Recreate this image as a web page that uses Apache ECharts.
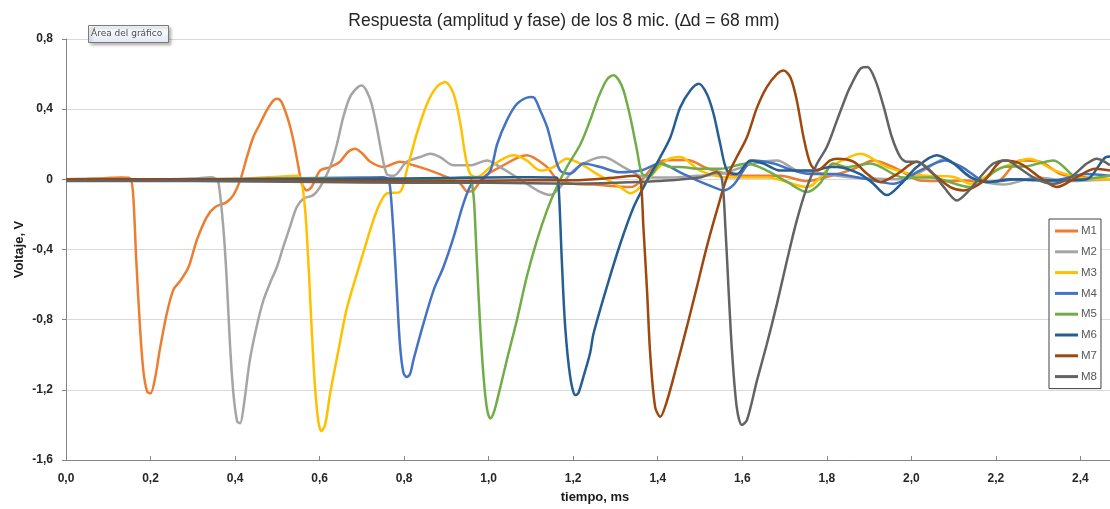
<!DOCTYPE html>
<html>
<head>
<meta charset="utf-8">
<script src="https://cdn.jsdelivr.net/npm/echarts@6/dist/echarts.min.js"></script>
<style>
html,body{margin:0;padding:0;background:#fff;}
#c{width:1110px;height:509px;}
</style>
</head>
<body>
<div id="c"></div>
<script>
const seriesNames = ['M1','M2','M3','M4','M5','M6','M7','M8'];
const seriesColors = ['#ED7D31','#A5A5A5','#FFC000','#4472C4','#70AD47','#255E91','#9E480E','#636363'];
const yTicks = [-1.6,-1.2,-0.8,-0.4,0,0.4,0.8];
const xTicks = [0,0.2,0.4,0.6,0.8,1.0,1.2,1.4,1.6,1.8,2.0,2.2,2.4];

const m1t = [0,0.05,0.10,0.13,0.150,0.158,0.166,0.175,0.183,0.192,0.200,0.211,0.222,0.238,0.254,0.270,0.290,0.309,0.333,0.353,0.380,0.396,0.412,0.428,0.443,0.459,0.475,0.491,0.500,0.510,0.526,0.538,0.550,0.558,0.570,0.581,0.601,0.625,0.648,0.667,0.684,0.700,0.720,0.751,0.790,0.822,0.862,0.901,0.933,0.950,0.964,0.988,1.027,1.090,1.138,1.161,1.200,1.250,1.335,1.413,1.470,1.520,1.595,1.690,1.753,1.810,1.864,1.910,1.966,2.020,2.080,2.124,2.200,2.258,2.305,2.353,2.415,2.470];
const m1v = [0,0.003,0.008,0.010,0.008,-0.06,-0.45,-0.84,-1.09,-1.21,-1.22,-1.13,-0.97,-0.77,-0.63,-0.58,-0.50,-0.35,-0.215,-0.158,-0.13,-0.09,-0.006,0.127,0.24,0.317,0.393,0.45,0.46,0.44,0.336,0.222,0.07,-0.025,-0.063,-0.044,0.05,0.07,0.10,0.156,0.175,0.15,0.10,0.07,0.10,0.08,0.05,0.013,-0.025,-0.07,-0.063,0.013,0.07,0.137,0.07,0.004,-0.025,-0.03,-0.044,0.108,0.11,0.06,0.02,0.02,-0.01,0.02,0.06,0.108,0.06,-0.006,-0.01,-0.006,-0.015,0.108,0.10,0.03,0.01,0.0];

const m2t = [0,0.1,0.2,0.3,0.345,0.355,0.361,0.372,0.380,0.388,0.396,0.405,0.412,0.420,0.435,0.451,0.467,0.483,0.499,0.514,0.530,0.546,0.562,0.585,0.601,0.625,0.641,0.656,0.672,0.690,0.700,0.712,0.723,0.735,0.747,0.759,0.775,0.806,0.838,0.862,0.885,0.917,0.956,0.996,1.027,1.059,1.090,1.122,1.146,1.169,1.200,1.240,1.272,1.319,1.375,1.420,1.493,1.548,1.627,1.682,1.729,1.765,1.864,1.982,2.035,2.080,2.140,2.218,2.297,2.376,2.470];
const m2v = [0,0.002,0,0.005,0.012,0,-0.02,-0.27,-0.56,-0.94,-1.22,-1.38,-1.39,-1.30,-1.03,-0.84,-0.69,-0.59,-0.50,-0.385,-0.27,-0.158,-0.11,-0.09,-0.044,0.07,0.20,0.355,0.47,0.525,0.535,0.50,0.43,0.30,0.146,0.03,0.02,0.10,0.127,0.146,0.127,0.08,0.08,0.108,0.07,0.023,-0.025,-0.072,-0.09,-0.044,0.05,0.108,0.127,0.07,0.01,0.01,0.02,0.03,0.09,0.108,0.05,0.04,0.01,0,0.06,0.118,0.01,-0.03,0.01,-0.01,0];

const m3t = [0,0.2,0.4,0.5,0.545,0.556,0.566,0.574,0.581,0.589,0.597,0.604,0.613,0.625,0.645,0.664,0.688,0.712,0.735,0.759,0.790,0.806,0.830,0.854,0.877,0.897,0.917,0.933,0.944,0.956,0.972,1.004,1.035,1.059,1.090,1.122,1.153,1.185,1.217,1.250,1.311,1.335,1.359,1.420,1.453,1.500,1.570,1.660,1.753,1.808,1.856,1.880,1.942,2.020,2.100,2.140,2.200,2.280,2.340,2.415,2.470];
const m3v = [0,0,0.003,0.015,0.02,0.005,-0.18,-0.50,-0.84,-1.18,-1.38,-1.435,-1.40,-1.22,-0.97,-0.74,-0.54,-0.35,-0.18,-0.08,-0.072,0.05,0.26,0.43,0.526,0.555,0.488,0.317,0.146,0.032,0.013,0.07,0.118,0.137,0.108,0.05,0.07,0.118,0.09,0.04,-0.044,-0.08,-0.044,0.108,0.127,0.05,0.01,0.01,-0.044,0.07,0.13,0.146,0.07,0.023,0.013,-0.025,0.05,0.118,0.05,0.004,0];

const m4t = [0,0.3,0.5,0.7,0.750,0.762,0.767,0.775,0.783,0.790,0.798,0.806,0.814,0.822,0.846,0.870,0.893,0.917,0.940,0.960,0.980,1.004,1.020,1.043,1.067,1.098,1.108,1.122,1.138,1.153,1.169,1.193,1.224,1.264,1.311,1.359,1.406,1.453,1.493,1.532,1.556,1.580,1.627,1.674,1.721,1.761,1.820,1.887,1.958,2.020,2.080,2.120,2.180,2.258,2.336,2.415,2.470];
const m4v = [0,0,0.005,0.01,0.012,0,-0.05,-0.31,-0.65,-0.94,-1.10,-1.127,-1.11,-1.03,-0.82,-0.63,-0.50,-0.33,-0.14,-0.025,-0.01,0.05,0.20,0.336,0.43,0.47,0.465,0.393,0.30,0.165,0.05,0.032,0.09,0.07,0.04,0.05,0.09,0.04,-0.006,-0.044,-0.063,-0.03,0.108,0.09,0.05,0.03,0.03,0.004,-0.025,0.05,0.108,0.07,-0.015,0,-0.006,0.03,0.02];

const m5t = [0,0.4,0.6,0.8,0.9,0.955,0.962,0.966,0.972,0.980,0.988,0.996,1.004,1.012,1.020,1.043,1.067,1.090,1.114,1.138,1.161,1.185,1.217,1.240,1.260,1.280,1.295,1.308,1.319,1.335,1.351,1.363,1.382,1.406,1.430,1.453,1.500,1.548,1.611,1.658,1.706,1.753,1.785,1.815,1.848,1.903,1.982,2.045,2.140,2.218,2.274,2.336,2.400,2.470];
const m5v = [0,0,0.005,0,0.005,0.01,-0.05,-0.15,-0.46,-0.84,-1.127,-1.307,-1.364,-1.33,-1.26,-1.03,-0.80,-0.557,-0.35,-0.177,-0.044,0.07,0.20,0.336,0.47,0.57,0.593,0.565,0.507,0.355,0.165,0.032,0.02,0.09,0.07,0.07,0.06,0.06,0.09,0.05,-0.015,-0.072,-0.02,0.09,0.07,0.09,0.01,0.01,-0.044,0.07,0.075,0.108,0,0.02];

const m6t = [0,0.5,0.8,1.0,1.1,1.160,1.165,1.173,1.181,1.193,1.205,1.212,1.224,1.240,1.248,1.280,1.311,1.343,1.375,1.406,1.430,1.453,1.477,1.497,1.516,1.532,1.548,1.564,1.587,1.619,1.650,1.690,1.729,1.768,1.808,1.824,1.879,1.910,1.942,1.974,2.013,2.060,2.100,2.140,2.180,2.234,2.290,2.353,2.415,2.460,2.470];
const m6v = [0,0,0.005,0.01,0.012,0.01,-0.02,-0.46,-0.84,-1.127,-1.23,-1.22,-1.127,-0.99,-0.88,-0.61,-0.37,-0.158,-0.006,0.127,0.24,0.41,0.507,0.545,0.488,0.374,0.20,0.05,0.03,0.108,0.09,0.05,0.05,0.05,0.07,0.07,0.03,-0.025,-0.09,-0.03,0.07,0.137,0.09,0.013,-0.015,0,-0.005,-0.006,0,0.127,0.13];

const m7t = [0,0.5,0.9,1.1,1.2,1.3,1.347,1.359,1.366,1.375,1.382,1.394,1.406,1.420,1.444,1.469,1.493,1.516,1.540,1.564,1.587,1.611,1.635,1.658,1.682,1.698,1.714,1.729,1.745,1.761,1.777,1.808,1.824,1.864,1.896,1.927,1.966,2.013,2.052,2.092,2.124,2.171,2.218,2.258,2.305,2.344,2.396,2.435,2.470];
const m7v = [0,-0.005,-0.01,-0.005,-0.005,0.01,0.02,0,-0.27,-0.65,-0.99,-1.30,-1.354,-1.278,-1.07,-0.84,-0.61,-0.385,-0.177,0.013,0.127,0.24,0.41,0.526,0.60,0.62,0.58,0.45,0.24,0.09,0.05,0.108,0.118,0.10,0.03,-0.015,0.03,0.10,0.03,-0.044,-0.063,-0.01,0.108,0.09,0.01,-0.044,0.02,0.06,0.05];

const m8t = [0,0.3,0.6,0.8,1.0,1.2,1.3,1.4,1.5,1.540,1.552,1.560,1.568,1.576,1.587,1.599,1.611,1.635,1.658,1.682,1.706,1.729,1.753,1.777,1.800,1.824,1.848,1.856,1.879,1.896,1.915,1.935,1.954,1.974,1.990,2.013,2.045,2.077,2.108,2.130,2.162,2.194,2.226,2.258,2.297,2.336,2.376,2.415,2.439,2.470];
const m8v = [-0.01,-0.01,-0.015,-0.02,-0.02,-0.025,-0.02,-0.01,0.01,0.04,0,-0.27,-0.65,-0.99,-1.30,-1.40,-1.373,-1.145,-0.94,-0.71,-0.46,-0.234,-0.044,0.09,0.184,0.336,0.488,0.53,0.63,0.64,0.564,0.41,0.24,0.127,0.10,0.10,0.05,-0.044,-0.12,-0.08,0.01,0.09,0.108,0.06,0,-0.025,0.01,0.09,0.118,0.08];

const allT = [m1t,m2t,m3t,m4t,m5t,m6t,m7t,m8t];
const allV = [m1v,m2v,m3v,m4v,m5v,m6v,m7v,m8v];

const fmt = v => {
  const r = Math.round(v*10)/10;
  if (r === 0) return '0';
  return r.toFixed(1).replace('.', ',');
};

const chart = echarts.init(document.getElementById('c'));
chart.setOption({
  animation: false,
  backgroundColor: '#fff',
  title: {
    text: 'Respuesta (amplitud y fase) de los 8 mic. (\u2206d = 68 mm)',
    left: 559, top: 7, textAlign: 'center',
    textStyle: {fontFamily: 'Liberation Sans', fontSize: 17.5, fontWeight: 'normal', color: '#262626'}
  },
  legend: {
    orient: 'vertical', left: 1049, top: 219,
    padding: [5, 4, 5, 6],
    borderColor: '#404040', borderWidth: 1, backgroundColor: '#fff',
    itemWidth: 23, itemHeight: 3, itemGap: 6.8,
    icon: 'rect',
    data: seriesNames,
    textStyle: {fontFamily: 'Liberation Sans', fontSize: 11.5, color: '#595959', lineHeight: 14, padding: [0,0,0,-2]}
  },
  grid: {left: 66, right: 0, top: 39, bottom: 49, containLabel: false, outerBoundsMode: 'none'},
  xAxis: {
    type: 'value', min: 0, max: 2.47, interval: 0.2,
    name: 'tiempo, ms', nameLocation: 'middle', nameGap: 31, nameMoveOverlap: false,
    nameTextStyle: {fontFamily: 'Liberation Sans', fontSize: 13, fontWeight: 'bold', color: '#1a1a1a', padding: [0,0,0,14]},
    axisLine: {onZero: false, lineStyle: {color: '#868686', width: 1}},
    axisTick: {show: true, inside: true, length: 4, lineStyle: {color: '#868686'}},
    splitLine: {show: false},
    axisLabel: {
      fontFamily: 'Liberation Sans', fontSize: 12, fontWeight: 'bold', color: '#262626', margin: 13,
      formatter: v => {
        const k = v / 0.2;
        if (Math.abs(k - Math.round(k)) > 1e-6) return '';
        return xTicks[Math.round(k)].toFixed(1).replace('.', ',');
      }
    }
  },
  yAxis: {
    type: 'value', min: yTicks[0], max: yTicks[yTicks.length-1], interval: 0.4,
    name: 'Voltaje, V', nameLocation: 'middle', nameGap: 40, nameRotate: 90, nameMoveOverlap: false,
    nameTextStyle: {fontFamily: 'Liberation Sans', fontSize: 13, fontWeight: 'bold', color: '#1a1a1a'},
    axisLine: {show: true, lineStyle: {color: '#868686', width: 1}},
    axisTick: {show: true, inside: false, length: 4, lineStyle: {color: '#868686'}},
    splitLine: {show: true, lineStyle: {color: '#D9D9D9', width: 1}},
    axisLabel: {fontFamily: 'Liberation Sans', fontSize: 12, fontWeight: 'bold', color: '#262626', margin: 13, formatter: fmt}
  },
  graphic: [
    {type: 'rect', left: 88, top: 25, shape: {width: 80, height: 17},
     style: {fill: new echarts.graphic.LinearGradient(0,0,0,1,[{offset:0,color:'#ffffff'},{offset:1,color:'#e3e9f3'}]),
             stroke: '#7a7a7a', lineWidth: 1, shadowBlur: 3, shadowOffsetX: 2, shadowOffsetY: 2, shadowColor: 'rgba(0,0,0,0.3)'}, z: 100},
    {type: 'text', left: 91, top: 29, style: {text: '\u00C1rea del gr\u00E1fico', fontFamily: 'DejaVu Sans', fontSize: 9, fill: '#4d4d4d'}, z: 101}
  ],
  series: seriesNames.map((n, i) => ({
    name: n, type: 'line', showSymbol: false, symbol: 'none', smooth: 0.3,
    clip: true,
    lineStyle: {color: seriesColors[i], width: 2.5},
    itemStyle: {color: seriesColors[i]},
    data: allT[i].map((t, j) => [t, allV[i][j]])
  }))
});
</script>
</body>
</html>
